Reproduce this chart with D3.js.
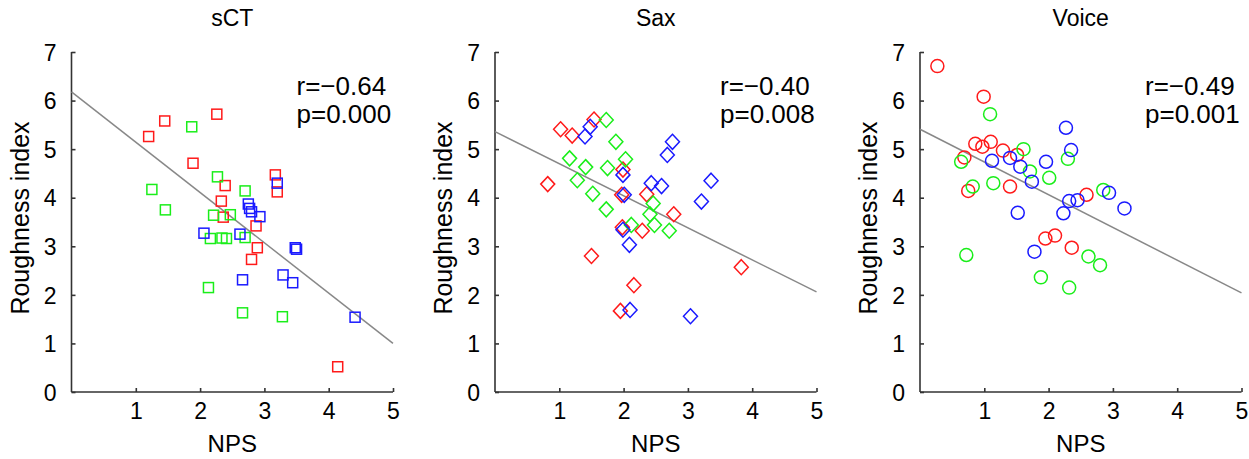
<!DOCTYPE html>
<html>
<head>
<meta charset="utf-8">
<script src="https://cdn.jsdelivr.net/npm/d3@7/dist/d3.min.js"></script>
<style>
  body { margin: 0; background: #fff; }
  svg text { font-family: "Liberation Sans", Arial, sans-serif; fill: #000; }
  .axis path, .axis line { stroke: #333; stroke-width: 1.6; }
  .axis text { font-size: 23px; fill: #000; }
</style>
</head>
<body>
<svg id="chart" width="1249" height="459"></svg>
<script>
// panel titles, stats text and fit lines (y at NPS=0 and NPS=5)
var titles   = ["sCT", "Sax", "Voice"];
var rTexts   = ["r=\u22120.64", "r=\u22120.40", "r=\u22120.49"];
var pTexts   = ["p=0.000", "p=0.008", "p=0.001"];
var fitStart = [6.18, 5.36, 5.41];
var fitEnd   = [1.00, 2.06, 2.04];
var xTicks   = [1, 2, 3, 4, 5];
var yTicks   = [0, 1, 2, 3, 4, 5, 6, 7];

// sCT  [NPS, roughness]
var sctRed = [[1.20,5.26],[1.45,5.58],[2.26,5.72],[1.89,4.71],[2.39,4.25],[2.33,3.93],[2.36,3.60],
              [3.17,4.47],[3.20,4.12],[2.87,3.42],[2.89,2.97],[2.80,2.73],[4.14,0.52]];
var sctGreen = [[1.87,5.46],[2.27,4.43],[1.25,4.17],[1.46,3.75],[2.21,3.64],[2.47,3.65],[2.70,4.14],
                [2.70,3.18],[2.41,3.16],[2.34,3.17],[2.16,3.16],[2.13,2.15],[2.66,1.63],[3.28,1.55]];
var sctBlue = [[3.20,4.30],[2.75,3.87],[2.77,3.78],[2.80,3.71],[2.93,3.61],[2.62,3.25],[2.06,3.27],
               [3.48,2.97],[3.50,2.94],[3.29,2.41],[3.44,2.25],[2.66,2.31],[4.41,1.54]];

// Sax
var saxRed = [[1.02,5.41],[1.20,5.28],[1.54,5.61],[0.82,4.28],[1.99,4.58],[1.97,4.06],[2.36,4.07],
              [2.78,3.66],[1.98,3.39],[2.29,3.32],[1.50,2.80],[2.16,2.20],[1.95,1.67],[3.83,2.57]];
var saxGreen = [[1.73,5.60],[1.88,5.15],[1.16,4.81],[1.41,4.63],[2.03,4.79],[1.75,4.61],[1.28,4.36],
                [1.52,4.08],[1.73,3.76],[2.46,3.88],[2.41,3.66],[2.12,3.44],[2.48,3.44],[2.71,3.32]];
var saxBlue = [[1.40,5.26],[1.48,5.46],[1.99,4.47],[2.01,4.06],[2.43,4.30],[2.76,5.15],[2.68,4.88],
               [2.59,4.24],[3.36,4.35],[3.21,3.92],[1.99,3.34],[2.09,3.03],[2.10,1.69],[3.04,1.56]];

// Voice
var voiceRed = [[0.27,6.71],[0.99,6.08],[0.86,5.11],[0.97,5.05],[1.10,5.15],[1.29,4.97],[1.51,4.88],
                [0.69,4.83],[1.40,4.23],[0.75,4.14],[2.59,4.06],[1.95,3.16],[2.10,3.22],[2.36,2.97]];
var voiceGreen = [[1.09,5.72],[2.30,4.80],[1.61,5.00],[0.64,4.74],[1.71,4.54],[2.01,4.41],[1.14,4.30],
                  [0.82,4.23],[2.85,4.16],[0.72,2.82],[1.88,2.36],[2.32,2.15],[2.62,2.79],[2.80,2.61]];
var voiceBlue = [[2.27,5.44],[2.35,4.98],[1.12,4.76],[1.40,4.82],[1.56,4.64],[1.96,4.74],[1.74,4.33],
                 [2.32,3.93],[2.45,3.95],[1.52,3.69],[2.23,3.68],[2.94,4.10],[3.18,3.78],[1.78,2.89]];

var panels = [
  {shape: "square",  series: [sctRed, sctGreen, sctBlue]},
  {shape: "diamond", series: [saxRed, saxGreen, saxBlue]},
  {shape: "circle",  series: [voiceRed, voiceGreen, voiceBlue]}
];
var colors = ["#ff1a1a", "#1aee1a", "#1a1aff"];

var svg = d3.select("#chart"),
    panelLeft = [71.5, 495, 920],
    panelTop  = 52,
    width  = 321.5,
    height = 340;

var x = d3.scaleLinear().domain([0, 5]).range([0, width]);
var y = d3.scaleLinear().domain([0, 7]).range([height, 0]);

panels.forEach(function(p, i) {
  var g = svg.append("g").attr("transform", "translate(" + panelLeft[i] + "," + panelTop + ")");

  // title
  g.append("text")
      .attr("x", width / 2).attr("y", -26)
      .attr("text-anchor", "middle")
      .style("font-size", "23px")
      .text(titles[i]);

  // axes
  g.append("g")
      .attr("class", "axis")
      .attr("transform", "translate(0," + height + ")")
      .call(d3.axisBottom(x).tickValues(xTicks).tickFormat(d3.format("d"))
              .tickSizeInner(-4).tickSizeOuter(0).tickPadding(11))
      .call(function(a) { a.select(".domain").attr("d", "M0,0H" + width); });

  g.append("g")
      .attr("class", "axis")
      .call(d3.axisLeft(y).tickValues(yTicks).tickFormat(d3.format("d"))
              .tickSizeInner(-4).tickSizeOuter(0).tickPadding(15))
      .call(function(a) { a.select(".domain").attr("d", "M0," + height + "V0"); })
      .selectAll("text").attr("dy", "0.36em");

  // axis labels
  g.append("text")
      .attr("x", width / 2).attr("y", height + 60)
      .attr("text-anchor", "middle")
      .style("font-size", "24px")
      .text("NPS");
  g.append("text")
      .attr("transform", "translate(-43," + (height / 2 - 4) + ") rotate(-90)")
      .attr("text-anchor", "middle")
      .style("font-size", "25px")
      .text("Roughness index");

  // fit line
  g.append("line")
      .attr("x1", x(0)).attr("y1", y(fitStart[i]))
      .attr("x2", x(5)).attr("y2", y(fitEnd[i]))
      .attr("stroke", "#888").attr("stroke-width", 1.5);

  // markers
  p.series.forEach(function(data, k) {
    var m = g.append("g")
        .attr("fill", "none")
        .attr("stroke", colors[k])
        .attr("stroke-width", 1.5);
    if (p.shape === "circle") {
      m.selectAll("circle").data(data).enter().append("circle")
          .attr("cx", function(d) { return x(d[0]); })
          .attr("cy", function(d) { return y(d[1]); })
          .attr("r", 6.5);
    } else if (p.shape === "square") {
      m.selectAll("rect").data(data).enter().append("rect")
          .attr("x", function(d) { return x(d[0]) - 5; })
          .attr("y", function(d) { return y(d[1]) - 5; })
          .attr("width", 10).attr("height", 10);
    } else {
      m.selectAll("path").data(data).enter().append("path")
          .attr("transform", function(d) { return "translate(" + x(d[0]) + "," + y(d[1]) + ")"; })
          .attr("d", "M0,-7.5L7,0L0,7.5L-7,0Z");
    }
  });

  // stats
  g.append("text")
      .attr("x", 225).attr("y", 43)
      .style("font-size", "26px")
      .text(rTexts[i]);
  g.append("text")
      .attr("x", 225).attr("y", 71)
      .style("font-size", "26px")
      .text(pTexts[i]);
});
</script>
</body>
</html>
